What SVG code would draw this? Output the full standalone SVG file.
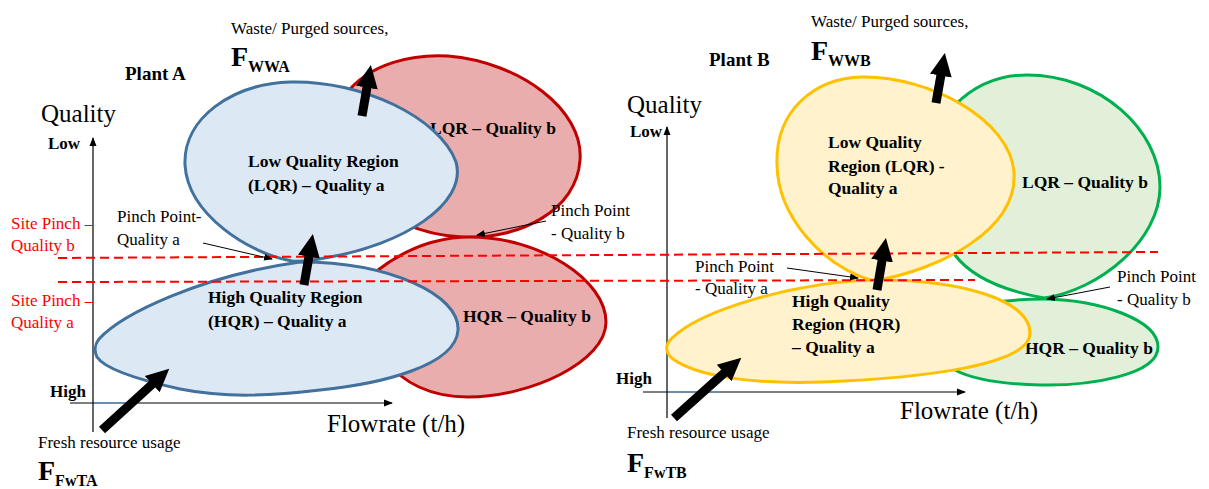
<svg xmlns="http://www.w3.org/2000/svg" width="1209" height="489" viewBox="0 0 1209 489">
<style>
.t{font-family:"Liberation Serif","Times New Roman",serif;fill:#000}
.n{font-size:17px}
.lb{font-size:17.5px;font-weight:bold}
.ax{font-size:25px}
.bd{font-weight:bold}
.red{fill:#ff0000}
.blue{fill:#dce9f5;stroke:#41719c;stroke-width:3}
.pink{fill:#eaadad;stroke:#c00000;stroke-width:3}
.yel{fill:#fff2cc;stroke:#ffc000;stroke-width:3}
.grn{fill:#e2f0d9;stroke:#00b050;stroke-width:3}
.axis{stroke:#000;stroke-width:1.2;fill:none}
.lead{stroke:#000;stroke-width:1;fill:none}
.thick{stroke:#000;stroke-width:9;fill:none}
.dash{stroke:#ff0000;stroke-width:2;stroke-dasharray:9 5;fill:none}
</style>
<defs>
<marker id="big" markerUnits="userSpaceOnUse" viewBox="0 -12 24 24" markerWidth="24" markerHeight="24" refX="1" refY="0" orient="auto">
<path d="M0,-11 L23,0 L0,11 Z" fill="#000"/>
</marker>
<marker id="sm" markerUnits="userSpaceOnUse" viewBox="0 -4 9 8" markerWidth="9" markerHeight="8" refX="8" refY="0" orient="auto">
<path d="M0,-3.5 L9,0 L0,3.5 Z" fill="#000"/>
</marker>
</defs>

<!-- Plant A axes and labels -->
<g id="axesA">
<line class="axis" x1="93" y1="432" x2="93" y2="138" marker-end="url(#sm)"/>
<line class="axis" x1="70" y1="403" x2="392" y2="403" marker-end="url(#sm)"/>
<line x1="94" y1="403" x2="125" y2="403" stroke="#5b9bd5" stroke-width="1.2"/>
<text class="t ax" x="41" y="122">Quality</text>
<text class="t bd" x="48" y="149" font-size="17">Low</text>
<text class="t bd" x="50" y="397" font-size="17">High</text>
<text class="t ax" x="327" y="432">Flowrate (t/h)</text>
<text class="t bd" x="125" y="80" font-size="19">Plant A</text>
<text class="t red n" x="11" y="229">Site Pinch –</text>
<text class="t red n" x="11" y="251">Quality b</text>
<text class="t red n" x="11" y="306">Site Pinch –</text>
<text class="t red n" x="11" y="328">Quality a</text>
</g>

<!-- Plant B axes and labels -->
<g id="axesB">
<line class="axis" x1="667" y1="418" x2="667" y2="127" marker-end="url(#sm)"/>
<line class="axis" x1="643" y1="392" x2="965" y2="392" marker-end="url(#sm)"/>
<line x1="668" y1="392" x2="720" y2="392" stroke="#5b9bd5" stroke-width="1.2"/>
<text class="t ax" x="627" y="113">Quality</text>
<text class="t bd" x="630" y="137" font-size="17">Low</text>
<text class="t bd" x="616" y="384" font-size="17">High</text>
<text class="t ax" x="900" y="419">Flowrate (t/h)</text>
<text class="t bd" x="709" y="66" font-size="19">Plant B</text>
</g>

<!-- Plant A regions -->
<g id="lqr-b-A">
<path class="pink" d="M345,95 C370,62 415,54 448,56 C520,62 584,110 580,160 C577,210 520,240 462,237 C420,235 385,218 365,195 C340,165 330,120 345,95 Z"/>
<text class="t lb" x="430" y="134">LQR – Quality b</text>
</g>
<g id="lqr-a-A">
<path class="blue" d="M185,165 C183,118 232,84 290,82 C362,80 440,118 456,162 C468,205 400,245 330,257 C316,260 305,262 292,261 C250,254 188,215 185,165 Z"/>
<text class="t lb" x="248" y="167">Low Quality Region</text>
<text class="t lb" x="248" y="191">(LQR) – Quality a</text>
</g>
<g id="hqr-b-A">
<path class="pink" d="M378,270 C408,247 440,237 470,237 C540,237 606,280 606,322 C606,362 530,397 468,397 C430,397 402,382 388,362 C362,330 360,288 378,270 Z"/>
<text class="t lb" x="463" y="322">HQR – Quality b</text>
</g>
<g id="hqr-a-A">
<path class="blue" d="M99,339 C122,314 200,276 300,262 C390,262 460,295 458,330 C456,366 380,384 320,390 C270,396 225,398 180,389 C135,379 104,368 97,357 C94,351 95,344 99,339 Z"/>
<text class="t lb" x="208" y="303">High Quality Region</text>
<text class="t lb" x="208" y="327">(HQR) – Quality a</text>
</g>

<!-- Plant B regions -->
<g id="lqr-b-B">
<path class="grn" d="M955,105 C975,85 1000,75 1027,75 C1100,75 1160,130 1160,187 C1160,240 1100,290 1044,298 C1000,290 970,275 955,255 C930,210 930,130 955,105 Z"/>
<text class="t lb" x="1022" y="188">LQR – Quality b</text>
</g>
<g id="lqr-a-B">
<path class="yel" d="M777,165 C775,110 815,78 862,77 C930,76 1010,120 1014,172 C1018,230 940,270 873,281 C820,265 778,215 777,165 Z"/>
<text class="t lb" x="828" y="148">Low Quality</text>
<text class="t lb" x="828" y="172">Region (LQR) -</text>
<text class="t lb" x="828" y="194">Quality a</text>
</g>
<g id="hqr-b-B">
<path class="grn" d="M990,303 C1010,300 1030,299 1045,299 C1100,300 1158,320 1158,347 C1158,375 1090,386 1040,385 C1000,384 970,378 955,370 C960,340 970,310 990,303 Z"/>
<text class="t lb" x="1025" y="354">HQR – Quality b</text>
</g>
<g id="hqr-a-B">
<path class="yel" d="M671,339 C702,308 800,282 873,280 C960,279 1030,300 1030,333 C1030,366 920,378 823,382 C740,385 692,373 673,359 C665,353 665,345 671,339 Z"/>
<text class="t lb" x="792" y="307">High Quality</text>
<text class="t lb" x="792" y="330">Region (HQR)</text>
<text class="t lb" x="792" y="353">– Quality a</text>
</g>

<!-- site pinch lines -->
<g id="site-pinch">
<line class="dash" x1="58" y1="258" x2="1158" y2="252"/>
<line class="dash" x1="58" y1="282" x2="975" y2="280"/>
</g>

<!-- flows and labels -->
<g id="flow-labels">
<text class="t n" x="231" y="34">Waste/ Purged sources,</text>
<text class="t bd" x="231" y="66"><tspan font-size="28">F</tspan><tspan font-size="16" dy="6">WWA</tspan></text>
<text class="t n" x="811" y="27">Waste/ Purged sources,</text>
<text class="t bd" x="811" y="60"><tspan font-size="28">F</tspan><tspan font-size="16" dy="6">WWB</tspan></text>
<text class="t n" x="38" y="448">Fresh resource usage</text>
<text class="t bd" x="38" y="480"><tspan font-size="28">F</tspan><tspan font-size="16" dy="6">FwTA</tspan></text>
<text class="t n" x="627" y="438">Fresh resource usage</text>
<text class="t bd" x="627" y="472"><tspan font-size="28">F</tspan><tspan font-size="16" dy="6">FwTB</tspan></text>
<text class="t n" x="117" y="222">Pinch Point-</text>
<text class="t n" x="117" y="245">Quality a</text>
<text class="t n" x="551" y="216">Pinch Point</text>
<text class="t n" x="551" y="239">- Quality b</text>
<text class="t n" x="695" y="272">Pinch Point</text>
<text class="t n" x="695" y="294">- Quality a</text>
<text class="t n" x="1117" y="282">Pinch Point</text>
<text class="t n" x="1117" y="305">- Quality b</text>
</g>

<g id="connectors">
<line class="thick" x1="102" y1="430" x2="153" y2="383.5" marker-end="url(#big)"/>
<line class="thick" x1="304" y1="285" x2="309.1" y2="255.7" marker-end="url(#big)"/>
<line class="thick" x1="362" y1="116" x2="367.1" y2="86.7" marker-end="url(#big)"/>
<line class="thick" x1="674" y1="418" x2="724.9" y2="372.4" marker-end="url(#big)"/>
<line class="thick" x1="877" y1="290" x2="882.2" y2="259.7" marker-end="url(#big)"/>
<line class="thick" x1="936" y1="103" x2="941" y2="74.7" marker-end="url(#big)"/>
<line class="lead" x1="203" y1="243" x2="272" y2="259" marker-end="url(#sm)"/>
<line class="lead" x1="546" y1="221" x2="477" y2="235" marker-end="url(#sm)"/>
<line class="lead" x1="787" y1="268" x2="858" y2="278" marker-end="url(#sm)"/>
<line class="lead" x1="1110" y1="287" x2="1047" y2="299" marker-end="url(#sm)"/>
</g>
</svg>
